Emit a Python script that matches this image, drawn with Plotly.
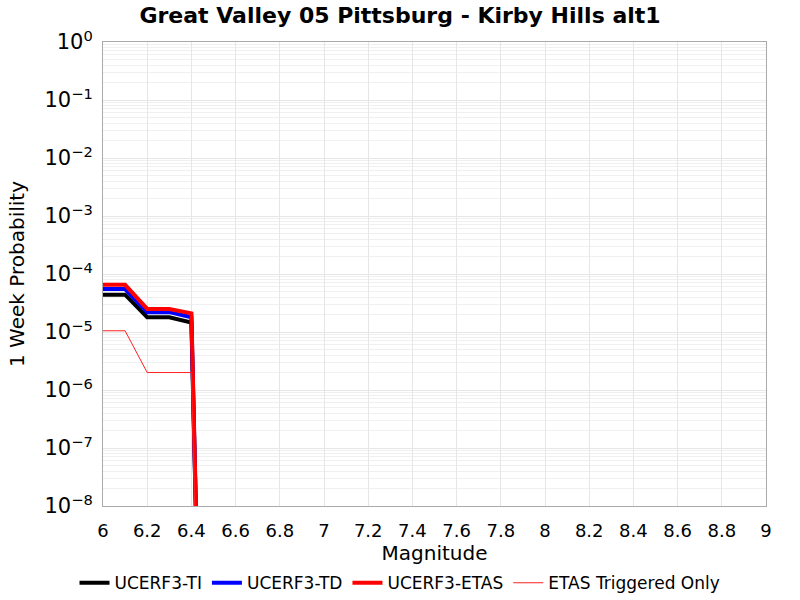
import plotly.graph_objects as go

mags = [6.0, 6.1, 6.2, 6.3, 6.4, 6.5]
ti = [4.4e-5, 4.4e-5, 1.8e-5, 1.8e-5, 1.45e-5, 1e-21]
td = [5.5e-5, 5.5e-5, 2.2e-5, 2.2e-5, 1.8e-5, 1e-21]
etas = [6.5e-5, 6.5e-5, 2.5e-5, 2.5e-5, 2.1e-5, 1e-21]
trig = [1.05e-5, 1.05e-5, 2.0e-6, 2.0e-6, 2.0e-6, 1e-21]

x_ticks = [round(6 + 0.2 * i, 1) for i in range(16)]
x_labels = ["%g" % v for v in x_ticks]
y_exps = [0, -1, -2, -3, -4, -5, -6, -7, -8]
y_ticks = [10.0 ** e for e in y_exps]
y_labels = ["10<sup>%s</sup>" % ("\u2212%d" % -e if e < 0 else "0") for e in y_exps]

font = "DejaVu Sans"
fig = go.Figure()
fig.add_trace(go.Scatter(x=mags, y=ti, mode="lines", name="UCERF3-TI",
                         line=dict(color="black", width=4)))
fig.add_trace(go.Scatter(x=mags, y=td, mode="lines", name="UCERF3-TD",
                         line=dict(color="#0000ff", width=4)))
fig.add_trace(go.Scatter(x=mags, y=etas, mode="lines", name="UCERF3-ETAS",
                         line=dict(color="#ff0000", width=4)))
fig.add_trace(go.Scatter(x=mags, y=trig, mode="lines", name="ETAS Triggered Only",
                         line=dict(color="#ff2020", width=1)))

fig.update_layout(
    width=800, height=600,
    margin=dict(l=103, r=34, t=42, b=94, autoexpand=False),
    paper_bgcolor="white", plot_bgcolor="white",
    font=dict(family=font, color="black"),
    title=dict(text="<b>Great Valley 05 Pittsburg - Kirby Hills alt1</b>",
               x=0.5, xanchor="center", y=0.975, yanchor="middle",
               font=dict(size=22, family=font)),
    showlegend=True,
    legend=dict(orientation="h", xref="container", x=0.5, xanchor="center",
                yref="container", y=0.028, yanchor="middle",
                font=dict(size=17), itemwidth=30, tracegroupgap=0,
                traceorder="normal"),
    xaxis=dict(range=[6, 9], tickvals=x_ticks, ticktext=x_labels,
               showgrid=True, gridcolor="#e6e6e6", gridwidth=1, automargin=True,
               zeroline=False, showline=True, linecolor="#aaaaaa", mirror=True,
               ticks="", tickfont=dict(size=18), ticklabelstandoff=8,
               title=dict(text="Magnitude", font=dict(size=20), standoff=6)),
    yaxis=dict(type="log", range=[-8, 0], tickvals=y_ticks, ticktext=y_labels,
               showgrid=True, gridcolor="#e6e6e6", gridwidth=1, automargin=True,
               minor=dict(showgrid=True, gridcolor="#f0f0f0", dtick="D1", ticks=""),
               zeroline=False, showline=True, linecolor="#aaaaaa", mirror=True,
               ticks="", tickfont=dict(size=21), ticklabelstandoff=5,
               title=dict(text="1 Week Probability", font=dict(size=20), standoff=14)),
)
fig.write_html("out.html")
